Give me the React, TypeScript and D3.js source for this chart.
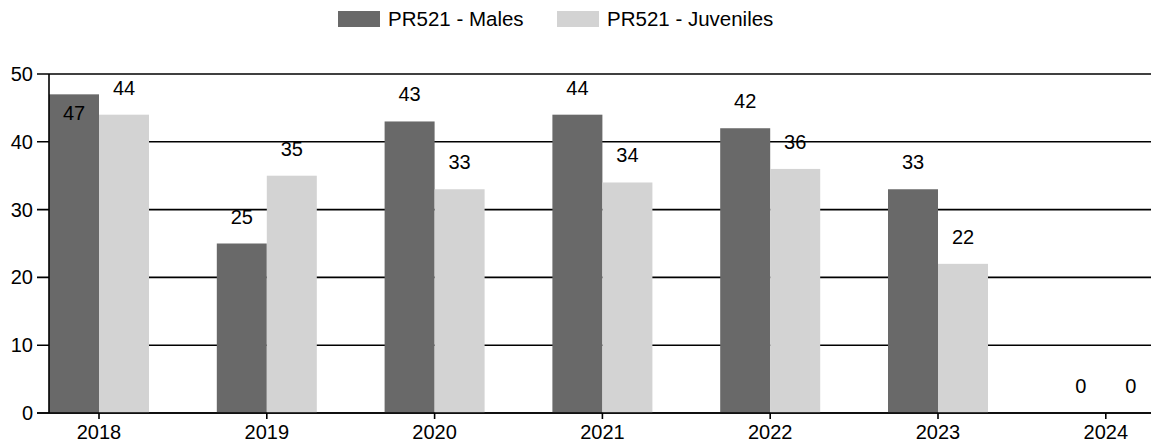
import React from "react";
import * as d3 from "d3";

const years = ["2018", "2019", "2020", "2021", "2022", "2023", "2024"];
const males = [47, 25, 43, 44, 42, 33, 0];
const juveniles = [44, 35, 33, 34, 36, 22, 0];
const seriesNames = ["PR521 - Males", "PR521 - Juveniles"];
const seriesColors = ["#696969", "#d3d3d3"];
const yTicks = [0, 10, 20, 30, 40, 50];

const W = 1151;
const H = 444;
const FONT = "'Liberation Sans', Arial, sans-serif";

export default function App() {
  const axisX = 49;
  const yTop = 74;
  const yBottom = 413;
  const step = 167.8;
  const firstCenter = 99;
  const x = d3
    .scaleBand<string>()
    .domain(years)
    .range([firstCenter - step / 2, firstCenter - step / 2 + step * years.length])
    .paddingInner(0)
    .paddingOuter(0);
  const barW = 50;
  const y = d3.scaleLinear().domain([0, 50]).range([yBottom, yTop]);
  const series = [males, juveniles];

  return (
    <svg width={W} height={H} style={{ position: "absolute", left: 0, top: 0 }} fontFamily={FONT}>
      <rect x={0} y={0} width={W} height={H} fill="#fff" />
      {/* legend */}
      {seriesNames.map((n, i) => {
        const lx = i === 0 ? 338 : 557;
        return (
          <g key={n}>
            <rect x={lx} y={11} width={42} height={16} fill={seriesColors[i]} />
            <text x={lx + 50} y={19} dy="0.35em" fontSize={20.5} fill="#000">
              {n}
            </text>
          </g>
        );
      })}
      {/* gridlines */}
      {yTicks.map((t) => (
        <g key={t}>
          <line x1={37} x2={W} y1={y(t)} y2={y(t)} stroke="#000" strokeWidth={1.6} />
          <text x={33} y={y(t)} dy="0.35em" textAnchor="end" fontSize={20} fill="#000">
            {t}
          </text>
        </g>
      ))}
      {/* bars */}
      {years.map((yr, i) => {
        const c = (x(yr) as number) + x.bandwidth() / 2;
        return series.map((s, j) => {
          const v = s[i];
          const bx = c - barW + j * barW;
          const top = y(v);
          let ly = top - 27;
          if (ly < yTop) ly = top + 19;
          return (
            <g key={yr + j}>
              <rect x={bx} y={top} width={barW} height={yBottom - top} fill={seriesColors[j]} />
              <text x={bx + barW / 2} y={ly} dy="0.35em" textAnchor="middle" fontSize={20} fill="#000">
                {v}
              </text>
            </g>
          );
        });
      })}
      {/* axes */}
      <line x1={axisX} x2={axisX} y1={yTop} y2={yBottom} stroke="#000" strokeWidth={1.6} />
      <line x1={37} x2={W} y1={yBottom} y2={yBottom} stroke="#000" strokeWidth={1.6} />
      {years.map((yr) => {
        const c = (x(yr) as number) + x.bandwidth() / 2;
        return (
          <g key={"t" + yr}>
            <line x1={c} x2={c} y1={yBottom} y2={yBottom + 6} stroke="#000" strokeWidth={1.6} />
            <text x={c} y={432} dy="0.35em" textAnchor="middle" fontSize={20} fill="#000">
              {yr}
            </text>
          </g>
        );
      })}
    </svg>
  );
}
